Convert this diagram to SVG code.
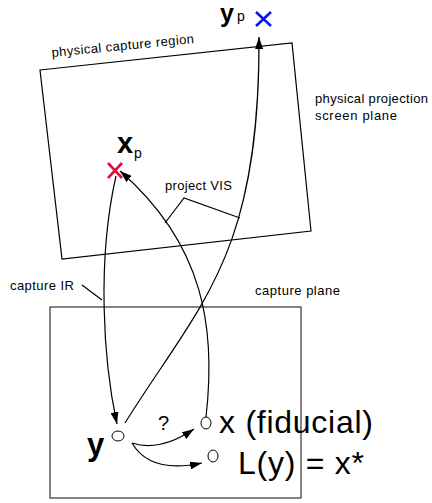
<svg xmlns="http://www.w3.org/2000/svg" width="432" height="503" viewBox="0 0 432 503">
<style>
  .ln { fill: none; stroke: #000; stroke-width: 1.2; }
  .sm { font-family: "Liberation Sans", Arial, sans-serif; font-size: 13px; fill: #000; }
  .sub { font-family: "Liberation Sans", Arial, sans-serif; font-size: 14px; fill: #000; }
  .big { font-family: "Liberation Sans", Arial, sans-serif; font-size: 32px; fill: #000; }
  .bold { font-family: "Liberation Sans", Arial, sans-serif; font-weight: bold; fill: #000; }
  .node { fill: #fff; stroke: #000; stroke-width: 1; }
</style>
<defs>
  <marker id="arr" viewBox="0 0 12 8" refX="12" refY="4" markerWidth="12" markerHeight="8" markerUnits="userSpaceOnUse" orient="auto">
    <path d="M0,0 L12,4 L0,8 Z" fill="#000"/>
  </marker>
</defs>
<rect width="432" height="503" fill="#fff"/>

<g id="projection-screen">
  <polygon class="ln" points="40,70 292,43 311,231 62,259"/>
  <text class="sm" x="52" y="57" transform="rotate(-5.6 52 57)" textLength="143">physical capture region</text>
  <text class="sm" x="315" y="103" textLength="113">physical projection</text>
  <text class="sm" x="315" y="120" textLength="82">screen plane</text>
</g>

<g id="capture-plane">
  <rect x="50" y="307" width="251" height="191" fill="none" stroke="#333" stroke-width="1.2"/>
  <text class="sm" x="255" y="295" textLength="85">capture plane</text>
</g>

<g id="yp">
  <text class="bold" x="220" y="22" font-size="25" textLength="15">y</text>
  <text class="sub" x="237" y="21">p</text>
  <path d="M256,12 L271,26 M256,26 L271,12" stroke="#0a14f0" stroke-width="2.6" fill="none"/>
</g>

<g id="xp">
  <text class="bold" x="117" y="153" font-size="29">x</text>
  <text class="sub" x="134" y="158">p</text>
  <path d="M108,163 L122,178 M108,178 L122,163" stroke="#e0103c" stroke-width="2.6" fill="none"/>
</g>

<g id="node-y">
  <ellipse class="node" cx="118" cy="436" rx="6" ry="5"/>
  <text class="bold" x="87" y="455" font-size="31">y</text>
</g>

<g id="node-x">
  <ellipse class="node" cx="206" cy="423" rx="5" ry="6"/>
  <text class="big" x="219" y="433" textLength="154">x (fiducial)</text>
</g>

<g id="node-L">
  <ellipse class="node" cx="213" cy="456" rx="5" ry="6"/>
  <text class="big" x="238" y="474" textLength="126">L(y) = x*</text>
</g>

<g id="connectors">
  <path class="ln" d="M125,423 C200,303 260,257 259,37" marker-end="url(#arr)"/>
  <path class="ln" d="M206,417 C216,330 205,245 120,171" marker-end="url(#arr)"/>
  <path class="ln" d="M116,176 C97,260 103,360 117,424" marker-end="url(#arr)"/>
  <path class="ln" d="M132,443 Q160,452 194,429" marker-end="url(#arr)"/>
  <path class="ln" d="M132,443 Q150,474 202,463" marker-end="url(#arr)"/>
  <polyline class="ln" points="165,223 184,198 240,218"/>
  <line class="ln" x1="82" y1="285" x2="102" y2="300"/>
  <text class="sm" x="10" y="290" textLength="64">capture IR</text>
  <text class="sm" x="165" y="190" textLength="67">project VIS</text>
  <text class="sm" x="158" y="430" style="font-size:20px">?</text>
</g>
</svg>
